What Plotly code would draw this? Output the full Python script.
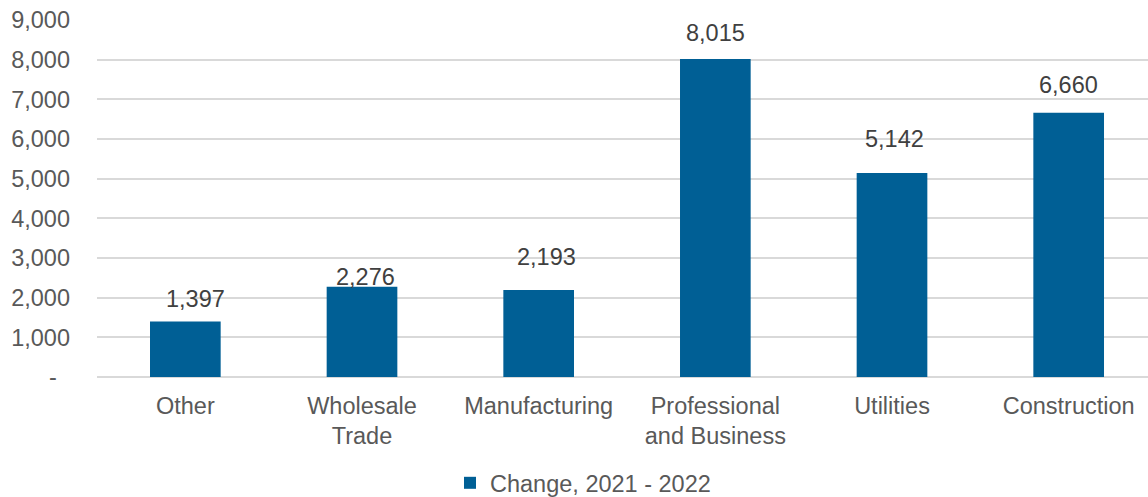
import plotly.graph_objects as go

categories = ["Other", "Wholesale<br>Trade", "Manufacturing", "Professional<br>and Business", "Utilities", "Construction"]
values = [1397, 2276, 2193, 8015, 5142, 6660]
series_name = "Change, 2021 - 2022"
tick_vals = [0, 1000, 2000, 3000, 4000, 5000, 6000, 7000, 8000, 9000]
tick_text = ["-\u00a0\u00a0", "1,000", "2,000", "3,000", "4,000", "5,000", "6,000", "7,000", "8,000", "9,000"]

# pixel nudges for each value label (dx right, dy above bar top)
label_dx = [10, 3, 8, 0, 2, 0]
label_dy = [23, 10, 33, 26, 34, 28]

BAR = "#005F95"
FONT = "Liberation Sans, Arial, sans-serif"
FS = 23.5

fig = go.Figure()
fig.add_trace(go.Bar(
    x=categories, y=values, name=series_name,
    marker=dict(color=BAR, line=dict(width=0)),
    width=0.4, showlegend=True,
))

for cat, v, dx, dy in zip(categories, values, label_dx, label_dy):
    fig.add_annotation(
        x=cat, y=v, text=f"{v:,}", showarrow=False,
        xshift=dx, yshift=dy,
        font=dict(family=FONT, size=FS, color="#404040"),
    )

fig.update_layout(
    width=1148, height=497,
    margin=dict(l=97, r=0, t=20, b=120, autoexpand=False),
    paper_bgcolor="white", plot_bgcolor="white",
    font=dict(family=FONT, size=FS, color="#595959"),
    showlegend=True,
    legend=dict(
        orientation="h", x=(450 - 97) / 1051, xanchor="left", y=-0.297, yanchor="middle",
        font=dict(family=FONT, size=FS, color="#595959"),
        itemwidth=30, bgcolor="rgba(0,0,0,0)",
    ),
    xaxis=dict(
        range=[-0.5, 5.449], showgrid=False, showline=False, ticks="",
        ticklabelstandoff=12, automargin=False,
        tickfont=dict(family=FONT, size=FS, color="#595959"),
    ),
    yaxis=dict(
        range=[0, 9000], tickvals=tick_vals, ticktext=tick_text,
        showgrid=True, gridcolor="#D9D9D9", gridwidth=1.5,
        zeroline=True, zerolinecolor="#D9D9D9", zerolinewidth=1.5,
        showline=False, ticks="", ticklabelstandoff=26, automargin=False,
        tickfont=dict(family=FONT, size=FS, color="#595959"),
    ),
)

fig.write_html("out.html")
